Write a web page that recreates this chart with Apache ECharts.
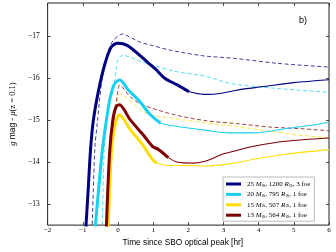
<!DOCTYPE html>
<html><head><meta charset="utf-8">
<script src="https://cdn.jsdelivr.net/npm/echarts@6/dist/echarts.min.js"></script>
<style>html,body{margin:0;padding:0;background:#fff}#c{width:336px;height:252px}</style>
</head><body><div id="c"></div>
<script>
// ---- tick values ----
const xTicks = [-2, -1, 0, 1, 2, 3, 4, 5, 6];
const yTicks = [-17, -16, -15, -14, -13];

// ---- legend labels ----
const legendNames = ['m25', 'm20', 'm15', 'm13'];
const legendLabels = [
  '25 {i|M}{s|⊙}, 1200 {i|R}{s|⊙}, 3 foe',
  '20 {i|M}{s|⊙}, 795 {i|R}{s|⊙}, 1 foe',
  '15 {i|M}{s|⊙}, 507 {i|R}{s|⊙}, 1 foe',
  '13 {i|M}{s|⊙}, 564 {i|R}{s|⊙}, 1 foe'
];

// ---- data: [time (hr), g mag - mu] ----
const navyThick = [[-0.93,-12.2],[-0.85,-13.3],[-0.78,-14.3],[-0.70,-15.0],[-0.55,-15.72],[-0.37,-16.35],[-0.19,-16.75],[0.0,-16.84],[0.26,-16.79],[0.62,-16.55],[0.85,-16.38],[1.07,-16.22],[1.34,-16.0],[1.70,-15.84],[2.02,-15.68]];
const navyThin = [[2.02,-15.68],[2.42,-15.62],[2.78,-15.63],[3.2,-15.69],[3.6,-15.75],[4.09,-15.80],[4.99,-15.90],[6.0,-15.97]];
const navyDash = [[-0.74,-12.2],[-0.66,-14.3],[-0.58,-15.0],[-0.45,-16.0],[-0.3,-16.6],[-0.14,-16.9],[0.13,-17.06],[0.35,-16.98],[0.62,-16.87],[1.0,-16.78],[1.51,-16.67],[2.42,-16.54],[3.3,-16.48],[4.54,-16.36],[6.0,-16.27]];

const cyanThick = [[-0.67,-12.2],[-0.45,-14.25],[-0.32,-15.05],[-0.22,-15.55],[-0.1,-15.87],[0.05,-15.96],[0.3,-15.72],[0.62,-15.45],[0.9,-15.15],[1.21,-14.93]];
const cyanThin = [[1.21,-14.93],[1.34,-14.9],[2.05,-14.81],[2.5,-14.76],[3.14,-14.70],[3.86,-14.70],[4.76,-14.80],[5.4,-14.87],[6.0,-14.95]];
const cyanDash = [[-0.45,-12.2],[-0.39,-14.3],[-0.27,-15.3],[-0.11,-15.8],[-0.01,-16.43],[0.13,-16.55],[0.7,-16.39],[1.62,-16.17],[2.5,-16.05],[3.2,-15.88],[4.54,-15.76],[6.0,-15.67]];

const yellowThick = [[-0.29,-12.2],[-0.19,-14.2],[-0.1,-14.82],[-0.01,-15.09],[0.04,-15.13],[0.35,-14.78],[0.70,-14.42],[0.98,-14.07],[1.1,-13.98]];
const yellowThin = [[1.1,-13.98],[1.34,-13.93],[2.0,-13.92],[2.5,-13.91],[3.32,-13.98],[3.86,-14.07],[4.76,-14.19],[6.0,-14.30]];
const yellowDash = [[-0.26,-12.2],[-0.16,-14.3],[-0.07,-15.2],[0.0,-15.55],[0.05,-15.63],[0.35,-15.45],[0.7,-15.22],[0.98,-15.12],[1.62,-15.04],[2.5,-14.94],[3.4,-14.85],[4.3,-14.74],[5.2,-14.64],[6.0,-14.59]];

const maroonThick = [[-0.34,-12.2],[-0.24,-14.2],[-0.14,-15.05],[-0.05,-15.33],[0.04,-15.37],[0.35,-15.01],[0.71,-14.66],[0.98,-14.38],[1.16,-14.30],[1.43,-14.11]];
const maroonThin = [[1.43,-14.11],[1.7,-14.0],[2.15,-13.98],[2.5,-14.03],[2.96,-14.19],[3.32,-14.27],[3.86,-14.38],[4.76,-14.50],[6.0,-14.58]];
const maroonDash = [[-0.3,-12.2],[-0.2,-14.3],[-0.1,-15.1],[-0.02,-15.6],[0.05,-15.84],[0.35,-15.56],[0.7,-15.37],[1.62,-15.13],[2.51,-14.99],[3.41,-14.92],[4.32,-14.84],[5.22,-14.8],[6.0,-14.75]];

const NAVY = '#000080', CYAN = '#18cff5', YELLOW = '#ffdd00', MAROON = '#800000';
const minus = v => (v < 0 ? '\u2212' : '') + Math.abs(v);
const serif = 'Liberation Serif';

function ln(name, data, color, width, dashed, z) {
  return {
    name, type: 'line', data, smooth: 0.3, showSymbol: false, symbol: 'none',
    z, silent: true, clip: true,
    lineStyle: { color, width, type: dashed ? [4, 2.5] : 'solid', opacity: dashed ? 0.75 : 1 },
    itemStyle: { color }
  };
}

const chart = echarts.init(document.getElementById('c'), null, { renderer: 'canvas' });
const tickStyle = { show: true, inside: true, length: 3, lineStyle: { color: '#222', width: 0.8 } };
const noLine = { show: false, onZero: false };
chart.setOption({
  animation: false,
  backgroundColor: '#fff',
  title: { text: 'b)', left: 299, top: 16, padding: 0,
    textStyle: { fontSize: 9, fontWeight: 'normal', fontFamily: 'Liberation Sans', color: '#000' } },
  grid: { left: 33, right: 7, top: 3, bottom: 25, show: true, borderColor: '#222', borderWidth: 1, backgroundColor: 'transparent' },
  legend: {
    data: legendNames, orient: 'vertical', left: 223, top: 177,
    padding: [3, 4, 2, 3], itemGap: 2.4, itemWidth: 15, itemHeight: 3, icon: 'rect',
    backgroundColor: '#fff', borderColor: '#aaa', borderWidth: 0.8,
    formatter: n => legendLabels[legendNames.indexOf(n)],
    textStyle: { fontFamily: serif, fontSize: 7, color: '#000', lineHeight: 8, padding: [0, 0, 0, 1],
      rich: { i: { fontFamily: serif, fontStyle: 'italic', fontSize: 7 }, s: { fontFamily: 'DejaVu Sans', fontSize: 4.5, verticalAlign: 'bottom', padding: [2, 0, 0, 0] } } }
  },
  xAxis: [{
    type: 'value', min: -2, max: 6, interval: 1, position: 'bottom',
    axisLine: noLine, splitLine: { show: false }, axisTick: tickStyle,
    axisLabel: { formatter: minus, fontFamily: serif, fontSize: 7, color: '#000', margin: 2 },
    name: 'Time since SBO optical peak [hr]', nameLocation: 'middle', nameGap: 9,
    nameTextStyle: { fontFamily: 'Liberation Sans', fontSize: 8.3, color: '#000', padding: [0, 11, 0, 0] }
  }, {
    type: 'value', min: -2, max: 6, interval: 1, position: 'top',
    axisLine: noLine, splitLine: { show: false }, axisTick: tickStyle, axisLabel: { show: false }
  }],
  yAxis: [{
    type: 'value', min: -17.8, max: -12.5, inverse: true, position: 'left',
    axisLine: noLine, splitLine: { show: false },
    axisTick: Object.assign({ customValues: yTicks }, tickStyle),
    axisLabel: { customValues: yTicks, formatter: minus, fontFamily: serif, fontSize: 7.5, color: '#000', margin: 8 },
    name: '{i|g} {s|mag} - {i|μ}(z = 0.1)', nameLocation: 'middle', nameRotate: 90, nameGap: 17,
    nameTextStyle: { fontFamily: serif, fontSize: 8.5, color: '#000',
      rich: { i: { fontFamily: serif, fontStyle: 'italic', fontSize: 8.5 }, s: { fontFamily: 'Liberation Sans', fontSize: 8.5 } } }
  }, {
    type: 'value', min: -17.8, max: -12.5, inverse: true, position: 'right',
    axisLine: noLine, splitLine: { show: false },
    axisTick: Object.assign({ customValues: yTicks }, tickStyle), axisLabel: { show: false }
  }],
  series: [
    ln('d25', navyDash, NAVY, 1, true, 2),
    ln('d20', cyanDash, CYAN, 1, true, 2),
    ln('d15', yellowDash, YELLOW, 1, true, 2),
    ln('d13', maroonDash, MAROON, 1, true, 2),
    ln('t25', navyThin, NAVY, 1.1, false, 3),
    ln('t20', cyanThin, CYAN, 1.1, false, 3),
    ln('t15', yellowThin, YELLOW, 1.1, false, 3),
    ln('t13', maroonThin, MAROON, 1.1, false, 3),
    ln('m25', navyThick, NAVY, 3, false, 4),
    ln('m20', cyanThick, CYAN, 3, false, 4),
    ln('m15', yellowThick, YELLOW, 3, false, 4),
    ln('m13', maroonThick, MAROON, 3, false, 4)
  ]
});
</script></body></html>
